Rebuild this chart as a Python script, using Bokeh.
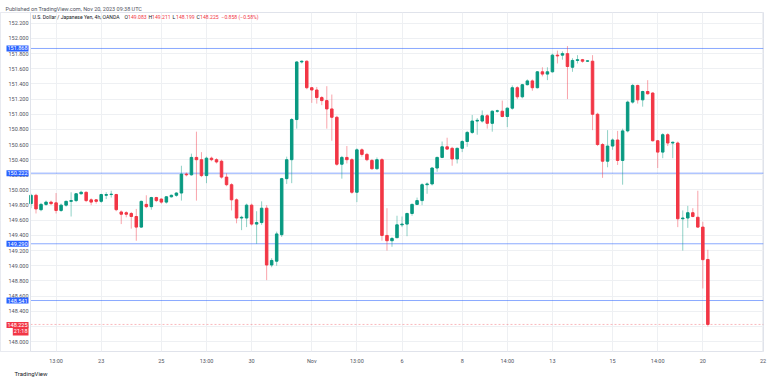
from bokeh.plotting import figure
from bokeh.models import (FixedTicker, Span, Label, NumeralTickFormatter, ColumnDataSource,
                          Title, BoxAnnotation)
from bokeh.embed import file_html
from bokeh.resources import INLINE

# ---------------- data (USD/JPY, 4h, OANDA) ----------------
opens = [149.82, 149.93, 149.74, 149.81, 149.84, 149.83, 149.73, 149.80, 149.85, 149.86,
         149.95, 149.97, 149.87, 149.87, 149.85, 149.93, 149.94, 149.94, 149.71, 149.70,
         149.69, 149.65, 149.51, 149.81, 149.78, 149.90, 149.88, 149.84, 149.91, 149.93,
         149.96, 150.21, 150.20, 150.43, 150.40, 150.19, 150.42, 150.40, 150.38, 150.17,
         150.07, 149.87, 149.63, 149.63, 149.80, 149.55, 149.57, 149.76, 149.01, 149.06,
         149.41, 150.15, 150.40, 150.93, 151.69, 151.70, 151.35, 151.32, 151.22, 151.18,
         151.07, 150.96, 150.34, 150.43, 150.40, 149.97, 150.53, 150.47, 150.39, 150.28,
         150.40, 149.40, 149.33, 149.37, 149.54, 149.55, 149.69, 149.81, 149.86, 150.07,
         150.08, 150.29, 150.43, 150.57, 150.55, 150.41, 150.55, 150.64, 150.76, 150.91,
         150.91, 150.98, 150.88, 151.04, 151.04, 150.97, 151.08, 151.35, 151.23, 151.39,
         151.44, 151.35, 151.56, 151.53, 151.56, 151.78, 151.78, 151.80, 151.62, 151.71,
         151.72, 151.70, 151.70, 151.00, 150.60, 150.38, 150.58, 150.66, 150.39, 150.78,
         151.16, 151.38, 151.19, 151.30, 151.28, 150.65, 150.50, 150.73, 150.62, 150.62,
         149.62, 149.63, 149.70, 149.64, 149.51, 149.083]
highs = [149.95, 149.95, 149.83, 149.86, 149.86, 149.96, 149.82, 149.86, 149.97, 149.96,
         149.99, 149.98, 149.89, 149.88, 149.95, 149.97, 149.99, 149.95, 149.73, 149.72,
         149.71, 149.75, 149.86, 149.93, 149.91, 149.91, 149.89, 149.92, 149.94, 149.97,
         150.32, 150.23, 150.48, 150.77, 150.50, 150.44, 150.44, 150.42, 150.40, 150.22,
         150.09, 149.89, 149.66, 149.82, 149.82, 149.72, 149.85, 149.80, 149.10, 149.45,
         150.16, 150.44, 150.95, 151.70, 151.71, 151.71, 151.36, 151.36, 151.24, 151.37,
         151.26, 150.98, 150.45, 150.58, 150.42, 150.55, 150.55, 150.49, 150.41, 150.43,
         150.42, 149.76, 149.38, 149.66, 149.65, 149.70, 149.82, 149.90, 150.09, 150.10,
         150.30, 150.44, 150.64, 150.69, 150.57, 150.56, 150.66, 150.78, 150.99, 150.95,
         151.05, 151.00, 151.05, 151.06, 151.18, 151.09, 151.38, 151.37, 151.40, 151.46,
         151.46, 151.57, 151.62, 151.62, 151.80, 151.84, 151.83, 151.90, 151.74, 151.78,
         151.73, 151.71, 151.78, 151.02, 150.62, 150.79, 150.68, 150.78, 150.81, 151.18,
         151.40, 151.39, 151.31, 151.45, 151.29, 150.66, 150.75, 150.75, 150.64, 150.64,
         149.73, 149.79, 149.76, 149.99, 149.58, 149.211]
lows = [149.76, 149.69, 149.72, 149.79, 149.80, 149.69, 149.71, 149.78, 149.65, 149.84,
        149.94, 149.84, 149.80, 149.82, 149.83, 149.88, 149.90, 149.72, 149.55, 149.64,
        149.49, 149.33, 149.50, 149.76, 149.74, 149.84, 149.82, 149.82, 149.90, 149.91,
        149.86, 150.18, 150.19, 149.86, 150.17, 150.09, 150.38, 150.35, 150.15, 150.05,
        149.73, 149.56, 149.47, 149.51, 149.53, 149.29, 149.54, 148.81, 148.98, 149.00,
        149.38, 150.08, 150.09, 150.81, 151.67, 151.33, 151.15, 151.14, 151.12, 150.81,
        150.65, 150.32, 150.15, 150.35, 149.95, 149.84, 150.44, 150.38, 150.27, 150.27,
        149.33, 149.20, 149.25, 149.38, 149.51, 149.39, 149.66, 149.80, 149.80, 149.95,
        150.06, 150.24, 150.42, 150.53, 150.32, 150.35, 150.50, 150.57, 150.74, 150.73,
        150.89, 150.81, 150.77, 151.02, 150.96, 150.83, 151.06, 151.20, 151.21, 151.38,
        151.31, 151.34, 151.50, 151.45, 151.55, 151.67, 151.72, 151.20, 151.56, 151.67,
        151.68, 151.69, 150.79, 150.58, 150.16, 150.30, 150.53, 150.33, 150.07, 150.76,
        151.14, 151.14, 151.10, 151.26, 150.64, 150.29, 150.42, 150.58, 150.42, 149.51,
        149.20, 149.50, 149.64, 149.50, 148.70, 148.199]
closes = [149.93, 149.75, 149.81, 149.84, 149.82, 149.73, 149.80, 149.85, 149.86, 149.95,
          149.97, 149.86, 149.84, 149.85, 149.94, 149.94, 149.945, 149.74, 149.68, 149.68,
          149.65, 149.51, 149.85, 149.78, 149.90, 149.86, 149.84, 149.91, 149.93, 149.96,
          150.21, 150.20, 150.43, 150.40, 150.19, 150.42, 150.40, 150.37, 150.17, 150.07,
          149.87, 149.63, 149.64, 149.80, 149.55, 149.57, 149.76, 149.01, 149.07, 149.42,
          150.15, 150.40, 150.93, 151.69, 151.70, 151.35, 151.32, 151.22, 151.18, 151.07,
          150.96, 150.34, 150.43, 150.40, 149.97, 150.53, 150.47, 150.40, 150.28, 150.40,
          149.40, 149.33, 149.36, 149.54, 149.55, 149.69, 149.81, 149.86, 150.07, 150.08,
          150.29, 150.43, 150.57, 150.54, 150.41, 150.55, 150.64, 150.76, 150.91, 150.92,
          150.98, 150.88, 151.04, 151.045, 150.97, 151.08, 151.35, 151.23, 151.39, 151.44,
          151.35, 151.56, 151.53, 151.56, 151.78, 151.77, 151.80, 151.63, 151.71, 151.72,
          151.70, 151.705, 151.00, 150.60, 150.38, 150.58, 150.66, 150.39, 150.78, 151.16,
          151.38, 151.19, 151.30, 151.27, 150.65, 150.50, 150.73, 150.62, 150.63, 149.62,
          149.63, 149.70, 149.65, 149.51, 149.08, 148.225]

x_tick_pos = [5, 14, 26, 35, 44, 56, 65, 74, 86, 95, 104, 116, 125, 134, 146]
x_tick_labels = ["13:00", "23", "25", "13:00", "30", "Nov", "13:00", "6", "8", "14:00",
                 "13", "15", "14:00", "20", "22"]
price_ticks = [148.0, 148.2, 148.4, 148.6, 148.8, 149.0, 149.2, 149.4, 149.6, 149.8, 150.0,
               150.2, 150.4, 150.6, 150.8, 151.0, 151.2, 151.4, 151.6, 151.8, 152.0, 152.2]
level_prices = [151.868, 150.222, 149.290, 148.541]
last_price = 148.225
last_time = "21:18"
header_title = "U.S. Dollar / Japanese Yen, 4h, OANDA"
ohlc_letters = ["O", "H", "L", "C"]
ohlc_values = ["149.083", "149.211", "148.199", "148.225"]
change_text = "\u22120.858 (\u22120.58%)"
published_text = "Published on TradingView.com, Nov 20, 2023 09:38 UTC"
footer_text = "TradingView"

# ---------------- styling ----------------
UP = "#089981"
DOWN = "#f23645"
BLUE = "#2962ff"
TXT = "#50535e"
FONT = "Roboto"
FS = "5.5px"
LFS = "5.1px"

n = len(opens)
xs = list(range(n))
colors = [UP if c >= o else DOWN for o, c in zip(opens, closes)]
src = ColumnDataSource(dict(
    x=xs, open=opens, high=highs, low=lows, close=closes,
    top=[max(o, c) for o, c in zip(opens, closes)],
    bottom=[min(o, c) for o, c in zip(opens, closes)],
    color=colors))

# plot area proper: page x 30..763; the frame also covers the price-scale strip 0..30
X0, X1 = -0.1, 146.1
PX = 733 / (X1 - X0)
XL = X0 - 30 / PX
Y0, Y1 = 147.868, 152.343

def px_to_x(px):
    return X0 + (px - 30) / PX

def py_to_p(py):
    return 152.0 - (py - 38) / 75.75

p = figure(width=768, height=380, x_range=(XL, X1), y_range=(Y0, Y1),
           output_backend="svg", toolbar_location=None,
           min_border_left=0, min_border_right=5, min_border_top=12, min_border_bottom=29)
p.background_fill_color = "white"
p.border_fill_color = "white"
p.outline_line_color = "#e0e3eb"

# header / footer as titles
p.add_layout(Title(text=published_text, align="left", offset=5, standoff=2,
                   text_font=FONT, text_font_size=FS, text_font_style="normal",
                   text_color=TXT), "above")
p.add_layout(Title(text=footer_text, align="left", offset=14, standoff=2,
                   text_font=FONT, text_font_size="6px", text_font_style="normal",
                   text_color="#131722"), "below")

# grid
p.xgrid.ticker = FixedTicker(ticks=x_tick_pos)
p.ygrid.ticker = FixedTicker(ticks=price_ticks)
p.xgrid.grid_line_color = "#eef0f3"
p.ygrid.grid_line_color = "#eef0f3"

# white price-scale strip over the grid, with its separator line
p.add_layout(BoxAnnotation(left=XL, right=X0, fill_color="white", fill_alpha=1.0,
                           line_color=None, level="underlay"))
p.add_layout(Span(location=X0, dimension="height", line_color="#e0e3eb", line_width=1))

# axes
p.xaxis.ticker = FixedTicker(ticks=x_tick_pos)
p.xaxis.major_label_overrides = {k: v for k, v in zip(x_tick_pos, x_tick_labels)}
p.yaxis.ticker = FixedTicker(ticks=price_ticks)
p.yaxis.formatter = NumeralTickFormatter(format="0.000")
p.yaxis.fixed_location = X0
for ax in (p.xaxis[0], p.yaxis[0]):
    ax.axis_line_color = None
    ax.major_tick_line_color = None
    ax.minor_tick_line_color = None
    ax.major_tick_out = 0
    ax.major_tick_in = 0
    ax.minor_tick_out = 0
    ax.minor_tick_in = 0
    ax.major_label_text_font = FONT
    ax.major_label_text_font_size = FS
    ax.major_label_text_color = TXT
p.xaxis.major_label_standoff = 6
p.yaxis.major_label_standoff = 2

# horizontal levels across the plot area
n_lv = len(level_prices)
p.segment(x0=[X0] * n_lv, x1=[X1] * n_lv, y0=level_prices, y1=level_prices,
          line_color=BLUE, line_alpha=0.55, line_width=1)
p.segment(x0=[X0], x1=[X1], y0=[last_price], y1=[last_price], line_color=DOWN,
          line_alpha=0.35, line_width=1, line_dash="2 2")

# candles
p.segment(x0="x", y0="low", x1="x", y1="high", source=src, line_color="color",
          line_alpha=0.45, line_width=1)
p.vbar(x="x", width=0.5, top="top", bottom="bottom", source=src,
       fill_color="color", line_color="color", line_width=1)

# price labels on the price scale
lab_x = px_to_x(28)
for lv in level_prices:
    p.add_layout(Label(x=lab_x, y=lv, text=f"{lv:.3f}", text_align="right",
                       text_baseline="middle", text_font=FONT, text_font_size=FS,
                       text_color="white", background_fill_color=BLUE, padding=1))
p.add_layout(Label(x=lab_x, y=py_to_p(331), text=last_time,
                   text_align="right", text_baseline="middle", text_font=FONT,
                   text_font_size=FS, text_color="white", background_fill_color=DOWN,
                   padding=1))
p.add_layout(Label(x=lab_x, y=py_to_p(324.5), text=f"{last_price:.3f}",
                   text_align="right", text_baseline="middle", text_font=FONT,
                   text_font_size=FS, text_color="white", background_fill_color=DOWN,
                   padding=1))

# header legend inside chart
ly = py_to_p(16.5)
p.add_layout(Label(x=px_to_x(32), y=ly, text=header_title, text_baseline="middle",
                   text_font=FONT, text_font_size=LFS, text_color="#131722"))
letter_px = [124, 148, 172, 196]
for let, val, lx in zip(ohlc_letters, ohlc_values, letter_px):
    p.add_layout(Label(x=px_to_x(lx), y=ly, text=let, text_baseline="middle",
                       text_font=FONT, text_font_size=LFS, text_color="#131722"))
    p.add_layout(Label(x=px_to_x(lx + 3.6), y=ly, text=val, text_baseline="middle",
                       text_font=FONT, text_font_size=LFS, text_color=DOWN))
p.add_layout(Label(x=px_to_x(221), y=ly, text=change_text, text_baseline="middle",
                   text_font=FONT, text_font_size=LFS, text_color=DOWN))

open("out.html", "w").write(file_html(p, INLINE))
